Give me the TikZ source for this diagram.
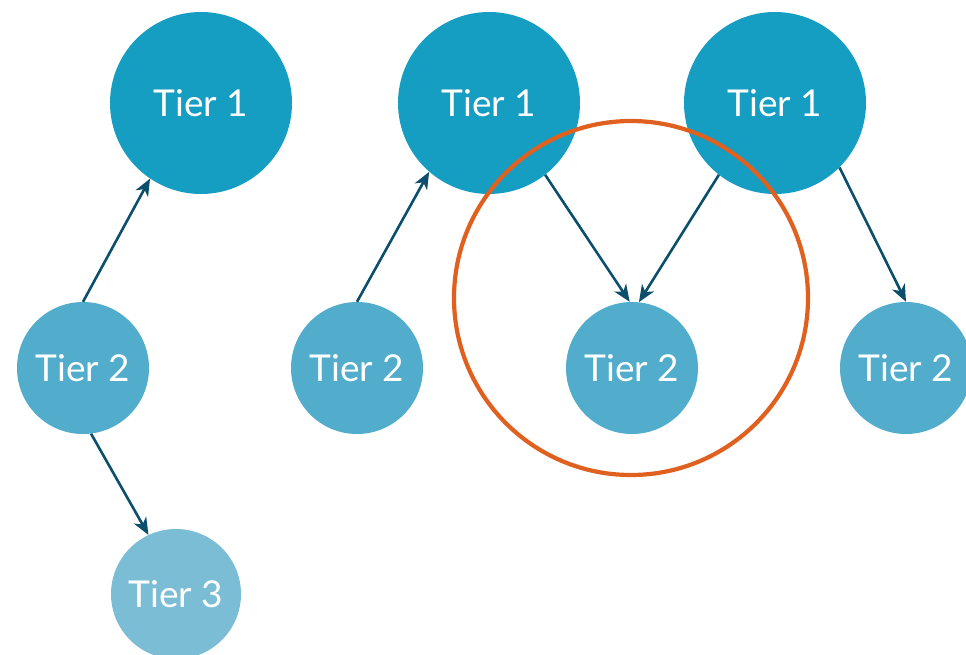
\documentclass[tikz,border=0pt]{standalone}
\usepackage{fontspec}
\setmainfont{Lato}
\usetikzlibrary{arrows.meta}
\definecolor{tone}{HTML}{169EC2}
\definecolor{ttwo}{HTML}{52ACCB}
\definecolor{tthree}{HTML}{7CBDD6}
\definecolor{arr}{HTML}{0B4F6C}
\definecolor{ring}{HTML}{E0601F}
\tikzset{
  tierone/.style={circle, fill=tone, minimum size=182pt, inner sep=0pt, text=white, font=\fontsize{37}{44}\selectfont},
  tiertwo/.style={circle, fill=ttwo, minimum size=132pt, inner sep=0pt, text=white, font=\fontsize{37}{44}\selectfont},
  tierthree/.style={circle, fill=tthree, minimum size=130pt, inner sep=0pt, text=white, font=\fontsize{37}{44}\selectfont},
  link/.style={-{Stealth[length=17pt,width=14pt,inset=5pt]}, draw=arr, line width=2.6pt},
}
\begin{document}
\begin{tikzpicture}[x=1pt,y=-1pt]
\useasboundingbox (0,0) rectangle (966,654);
\clip (0,0) rectangle (966,654);
\node[tierone] (a1) at (201,103) {Tier 1};
\node[tierone] (b1) at (489,103) {Tier 1};
\node[tierone] (c1) at (775,103) {Tier 1};
\node[tiertwo] (a2) at (83,368) {Tier 2};
\node[tiertwo] (b2) at (357,368) {Tier 2};
\node[tiertwo] (c2) at (632,368) {Tier 2};
\node[tiertwo] (d2) at (906,368) {Tier 2};
\node[tierthree] (a3) at (176,594) {Tier 3};
\node[circle, draw=ring, line width=4.2pt, minimum size=354pt, inner sep=0pt] (focus) at (631,298) {};
\draw[link] (a2.90) -- (a1.236);
\draw[link] (a2.-83) -- (a3.115);
\draw[link] (b2.90) -- (b1.229);
\draw[link] (b1.308) -- (c2.92);
\draw[link] (c1.232) -- (c2.84);
\draw[link] (c1.315) -- (d2.90);
\end{tikzpicture}
\end{document}
